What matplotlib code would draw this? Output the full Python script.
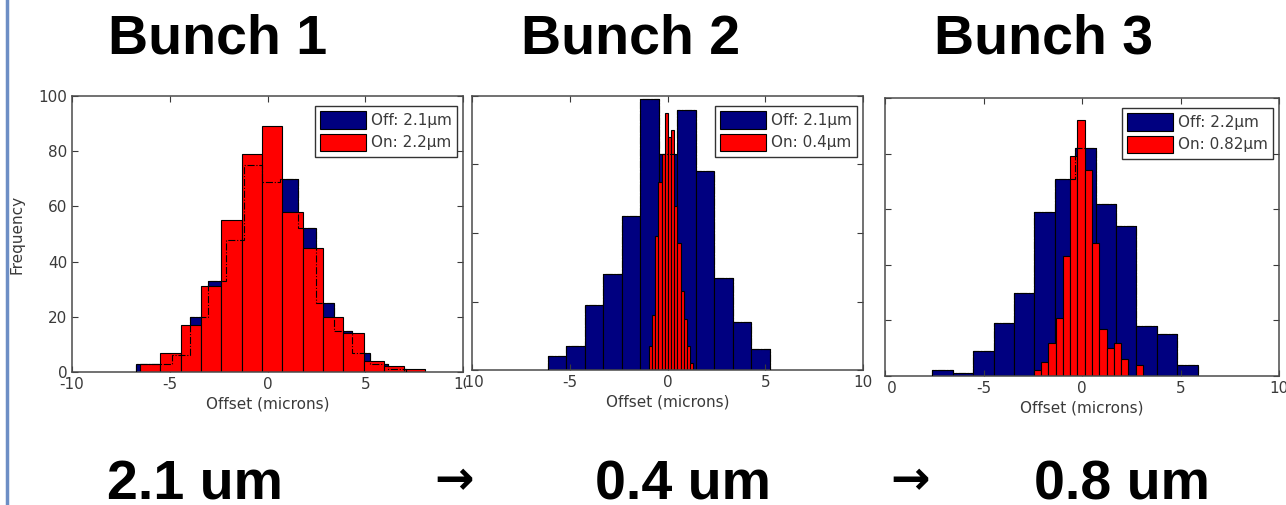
import matplotlib.pyplot as plt
from matplotlib.lines import Line2D
from matplotlib.transforms import Bbox, TransformedBbox

W, H = 1286, 505
NAVY = '#000080'
RED = '#ff0000'
GREY = '#3a3a3a'

plt.rcParams['font.family'] = ['DejaVu Sans']
plt.rcParams['axes.unicode_minus'] = False

# histogram counts, bins given as (first edge, bin width)
b1_off_bins = (-6.73, 0.92)
b1_off = [3, 3, 6, 20, 33, 48, 75, 69, 70, 52, 25, 15, 7, 3, 1]
b1_on_bins = (-6.52, 1.04)
b1_on = [3, 7, 17, 31, 55, 79, 89, 58, 45, 20, 14, 4, 2, 1]

b2_off_bins = (-6.13, 0.947)
b2_off = [4, 7, 19, 28, 45, 79, 63, 76, 58, 27, 14, 6]
b2_on_bins = (-0.95, 0.162)
b2_on = [7, 16, 39, 55, 63, 75, 68, 70, 48, 37, 23, 15, 7, 2]

b3_off_bins = (-7.59, 1.035)
b3_off = [2, 1, 9, 19, 30, 59, 71, 82, 62, 54, 18, 15, 4]
b3_on_bins = (-2.45, 0.37)
b3_on = [2, 5, 12, 21, 43, 79, 92, 74, 48, 17, 10, 12, 6, 0, 4]

legend_off = ['Off: 2.1\u03bcm', 'Off: 2.1\u03bcm', 'Off: 2.2\u03bcm']
legend_on = ['On: 2.2\u03bcm', 'On: 0.4\u03bcm', 'On: 0.82\u03bcm']
titles = ['Bunch 1', 'Bunch 2', 'Bunch 3']
spreads = ['2.1 um', '0.4 um', '0.8 um']
x_ticks = [-10, -5, 0, 5, 10]


def edges(bins, n):
    start, width = bins
    return [start + width * k for k in range(n + 1)]


def px_rect(x0, y0, x1, y1):
    return [x0 / W, 1 - y1 / H, (x1 - x0) / W, (y1 - y0) / H]


def panel(rect, ymax, off, off_bins, on, on_bins, lab_off, lab_on, clip, first=False):
    ax = fig.add_axes(px_rect(*rect))
    e_off = edges(off_bins, len(off))
    e_on = edges(on_bins, len(on))
    h_off = ax.bar(e_off[:-1], off, width=off_bins[1], align='edge', color=NAVY,
                   edgecolor='k', linewidth=0.8, zorder=1)
    h_on = ax.bar(e_on[:-1], on, width=on_bins[1], align='edge', color=RED,
                  edgecolor='k', linewidth=0.8, zorder=2)
    # outline of the 'off' histogram shows through the red bars
    ax.stairs(off, e_off, baseline=0, color='k', linestyle='-.', linewidth=0.8, zorder=3)

    ax.set_xlim(-10, 10)
    ax.set_ylim(0, ymax)
    ax.set_xticks(x_ticks)
    ax.set_yticks(range(0, ymax + 1, 20))
    ax.tick_params(direction='in', length=4, top=True, right=True, labelsize=11,
                   color=GREY, labelcolor=GREY, pad=3.5, labelleft=first)
    for s in ax.spines.values():
        s.set_color('#4a4a4a')
        s.set_linewidth(1.1)
    ax.set_xlabel('Offset (microns)', fontsize=11, color=GREY, labelpad=3)
    if first:
        ax.set_ylabel('Frequency', fontsize=11, color=GREY)
        ax.yaxis.set_label_coords(-(rect[0] - 25) / (rect[2] - rect[0]), 0.5)

    box = TransformedBbox(Bbox([[clip[0] / W, 0], [clip[1] / W, 1]]), fig.transFigure)
    for lbl in ax.get_xticklabels():
        lbl.set_clip_box(box)
        lbl.set_clip_on(True)

    axw, axh = rect[2] - rect[0], rect[3] - rect[1]
    leg = ax.legend([h_off, h_on], [lab_off, lab_on], loc='upper right',
                    bbox_to_anchor=(1 - 6 / axw, 1 - 10 / axh), borderaxespad=0,
                    fancybox=False, framealpha=1, edgecolor='#333333', fontsize=11,
                    handlelength=3.0, handleheight=1.4, labelspacing=0.3,
                    handletextpad=0.3, borderpad=0.35)
    leg.get_frame().set_linewidth(1.0)
    for t in leg.get_texts():
        t.set_color(GREY)
    return ax


fig = plt.figure(figsize=(W / 100, H / 100), dpi=100)

panel((72, 96, 463, 372), 100, b1_off, b1_off_bins, b1_on, b1_on_bins,
      legend_off[0], legend_on[0], (0, 466), first=True)
panel((472, 96, 863, 370), 80, b2_off, b2_off_bins, b2_on, b2_on_bins,
      legend_off[1], legend_on[1], (466, W))
panel((885, 98, 1279, 376), 100, b3_off, b3_off_bins, b3_on, b3_on_bins,
      legend_off[2], legend_on[2], (885.5, W))

big = dict(fontsize=40, fontweight='bold', family=['Liberation Sans', 'DejaVu Sans'],
           ha='center', va='baseline')
for x, t in zip([218, 631, 1043], titles):
    fig.text(x / W, 1 - 53 / H, t, **big)
for x, t in zip([195, 683, 1122], spreads):
    fig.text(x / W, 1 - 499 / H, t, **big)
arrow = dict(big, family=['DejaVu Sans'], fontsize=34)
for x in [454, 910]:
    fig.text(x / W, 1 - 494 / H, '\u2192', **arrow)

fig.add_artist(Line2D([7 / W, 7 / W], [0, 1], color='#6d8ec5', linewidth=2.5,
                      transform=fig.transFigure))

fig.savefig('out.png', dpi=100)
